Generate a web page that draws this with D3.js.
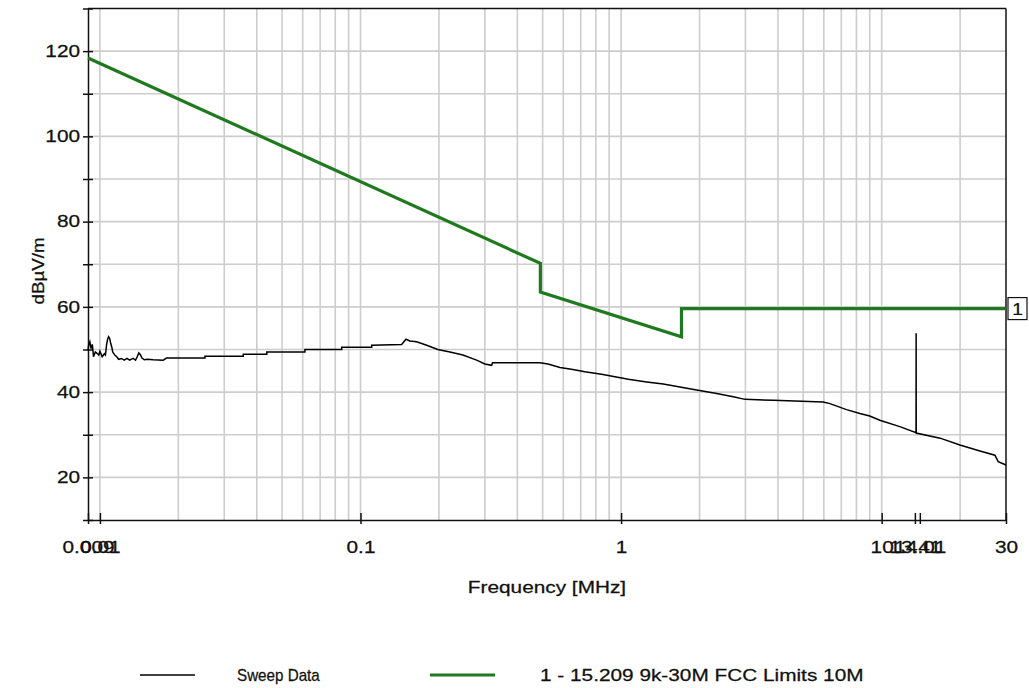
<!DOCTYPE html>
<html><head><meta charset="utf-8">
<script src="https://cdn.jsdelivr.net/npm/d3@7/dist/d3.min.js"></script>
<style>
html,body{margin:0;padding:0;background:#fff;}
text{font-family:"Liberation Sans",Arial,sans-serif;fill:#111;stroke:#111;stroke-width:0.25px;}
</style></head>
<body>
<svg id="chart" width="1029" height="688"></svg>
<script>
// ---- data ----
const sweepFreq = [0.009,0.00905,0.00915,0.00925,0.00935,0.00945,0.0096,0.00975,0.0099,0.0100,0.0102,0.0104,0.0105,0.0106,0.0107,0.0108,0.0109,0.0110,0.0111,0.0112,0.0114,0.0116,0.0118,0.0121,0.0124,0.0127,0.0130,0.0134,0.0137,0.0139,0.0141,0.0143,0.0145,0.0148,0.0152,0.016,0.0175,0.018,
  0.0253,0.0253,0.0355,0.0355,0.0437,0.0437,0.0612,0.0612,0.0847,0.0847,0.1104,0.1104,0.1438,0.1495,0.1548,0.1642,0.1795,0.198,0.2204,0.247,0.279,0.300,0.3186,0.3211,0.4884,0.524,0.583,0.653,0.726,0.842,0.947,1.066,1.253,1.452,1.682,1.950,2.327,2.695,2.987,3.837,5.967,6.33,7.33,8.25,9.0,9.84,11.74,13.55,13.56,13.57,16.76,19.96,23.83,27.2,28.0,30];
const sweepLevel = [49.8,51.0,51.8,50.2,51.2,48.3,49.4,49.1,48.7,49.6,48.3,49.0,48.7,51.0,52.4,53.0,52.6,51.4,50.6,49.4,48.7,48.3,47.7,47.9,47.5,47.9,47.5,47.9,47.5,48.3,49.2,48.8,48.0,47.6,47.7,47.6,47.5,48.0,
  48.0,48.4,48.4,48.9,48.9,49.4,49.4,50.0,50.0,50.5,50.5,51.0,51.2,52.4,52.0,51.8,51.0,50.0,49.4,48.7,47.5,46.6,46.3,46.9,46.9,46.6,45.8,45.3,44.8,44.2,43.6,43.0,42.4,41.9,41.2,40.5,39.7,38.9,38.3,38.1,37.7,37.3,35.9,35.0,34.4,33.4,31.9,30.5,53.8,30.4,29.2,27.6,26.2,25.2,23.7,22.9];
const limitFreq = [0.009,0.49,0.49,1.705,1.705,30];
const limitLevel = [118.4,70.2,63.5,53.0,59.6,59.6];
const xTickValues = [0.009,0.01,0.1,1,10,13.41,14.01,30];
const xTickLabels = ["0.009","0.01","0.1","1","10","13.41","14.01","30"];
const yTickValues = [20,40,60,80,100,120];
const yMinorTicks = [10,30,50,70,90,110,130];
const legendLabels = ["Sweep Data","1 - 15.209 9k-30M FCC Limits 10M"];
const markerLabel = "1";

// ---- layout ----
const svg = d3.select("#chart");
const L=88, R=1006, T=8.5, B=520;
const SX = 1.3;
const x = d3.scaleLog().domain([0.009,30]).range([L,R]);
const y = d3.scaleLinear().domain([10,130]).range([B,T]);

// grid
const grid = svg.append("g");
grid.selectAll("line.v").data(x.ticks().filter(v=>v>0.0091 && v<29.9)).enter().append("line")
  .attr("x1",d=>x(d)).attr("x2",d=>x(d)).attr("y1",T).attr("y2",B)
  .attr("stroke","#cdcdcd").attr("stroke-width",1.6);
grid.selectAll("line.h").data(d3.range(20,130,10)).enter().append("line")
  .attr("y1",d=>y(d)).attr("y2",d=>y(d)).attr("x1",L).attr("x2",R)
  .attr("stroke","#cdcdcd").attr("stroke-width",1.6);

// frame top/right
svg.append("line").attr("x1",L).attr("x2",R).attr("y1",T).attr("y2",T).attr("stroke","#111").attr("stroke-width",1.5);
svg.append("line").attr("x1",R).attr("x2",R).attr("y1",T).attr("y2",B).attr("stroke","#111").attr("stroke-width",1.5);

// y axis
const yAxis = svg.append("g").attr("transform",`translate(${L},0)`)
  .call(d3.axisLeft(y).tickValues(yTickValues.concat(yMinorTicks)).tickSizeInner(5).tickSizeOuter(0)
    .tickFormat(d=>yTickValues.includes(d)?String(d):""));
yAxis.select(".domain").attr("stroke","#111").attr("stroke-width",1.5);
yAxis.selectAll(".tick line").attr("x2",-5).attr("x1",5).attr("stroke","#111").attr("stroke-width",1.5);
yAxis.selectAll(".tick text").attr("x",-8/SX).attr("transform",`scale(${SX},1)`)
  .style("font-size","16px").attr("fill","#111");

// x axis
const xAxis = svg.append("g").attr("transform",`translate(0,${B})`)
  .call(d3.axisBottom(x).tickValues(xTickValues).tickSizeOuter(0)
    .tickFormat((d,i)=>xTickLabels[i]));
xAxis.select(".domain").attr("stroke","#111").attr("stroke-width",1.5);
xAxis.selectAll(".tick line").attr("y1",-7).attr("y2",4).attr("stroke","#111").attr("stroke-width",1.5);
xAxis.selectAll(".tick text").attr("y",33.5).attr("dy",0).attr("transform",`scale(${SX},1)`)
  .style("font-size","16px").attr("fill","#111");

// series
const sweep = sweepFreq.map((f,i)=>[f,sweepLevel[i]]);
const limit = limitFreq.map((f,i)=>[f,limitLevel[i]]);
const line = d3.line().x(d=>x(d[0])).y(d=>y(d[1]));
svg.append("path").datum(sweep).attr("d",line).attr("fill","none")
  .attr("stroke","#000").attr("stroke-width",1.5).attr("stroke-linejoin","miter");
svg.append("path").datum(limit).attr("d",line).attr("fill","none")
  .attr("stroke","#1f7a1f").attr("stroke-width",3.2);

// marker box
const my = y(limitLevel[limitLevel.length-1]);
svg.append("rect").attr("x",R+2).attr("y",my-11).attr("width",19).attr("height",22)
  .attr("fill","#fff").attr("stroke","#111").attr("stroke-width",1.2);
svg.append("text").attr("transform",`translate(${R+11.5},${my+6}) scale(1.2,1)`)
  .attr("text-anchor","middle").style("font-size","16px").text(markerLabel);

// axis titles
svg.append("text").attr("transform",`translate(547,593) scale(${SX},1)`)
  .attr("text-anchor","middle").style("font-size","16px").text("Frequency [MHz]");
svg.append("text").attr("transform",`translate(44,271) rotate(-90) scale(1.17,1)`)
  .attr("text-anchor","middle").style("font-size","16px").text("dBµV/m");

// legend
const lg = svg.append("g");
lg.append("line").attr("x1",140).attr("x2",195).attr("y1",675).attr("y2",675).attr("stroke","#000").attr("stroke-width",1.5);
lg.append("text").attr("transform",`translate(237,681) scale(0.95,1)`).style("font-size","16px").text(legendLabels[0]);
lg.append("line").attr("x1",430).attr("x2",495).attr("y1",675).attr("y2",675).attr("stroke","#1f7a1f").attr("stroke-width",3.2);
lg.append("text").attr("transform",`translate(540,681) scale(1.3,1)`).style("font-size","16px").text(legendLabels[1]);
</script>
</body></html>
